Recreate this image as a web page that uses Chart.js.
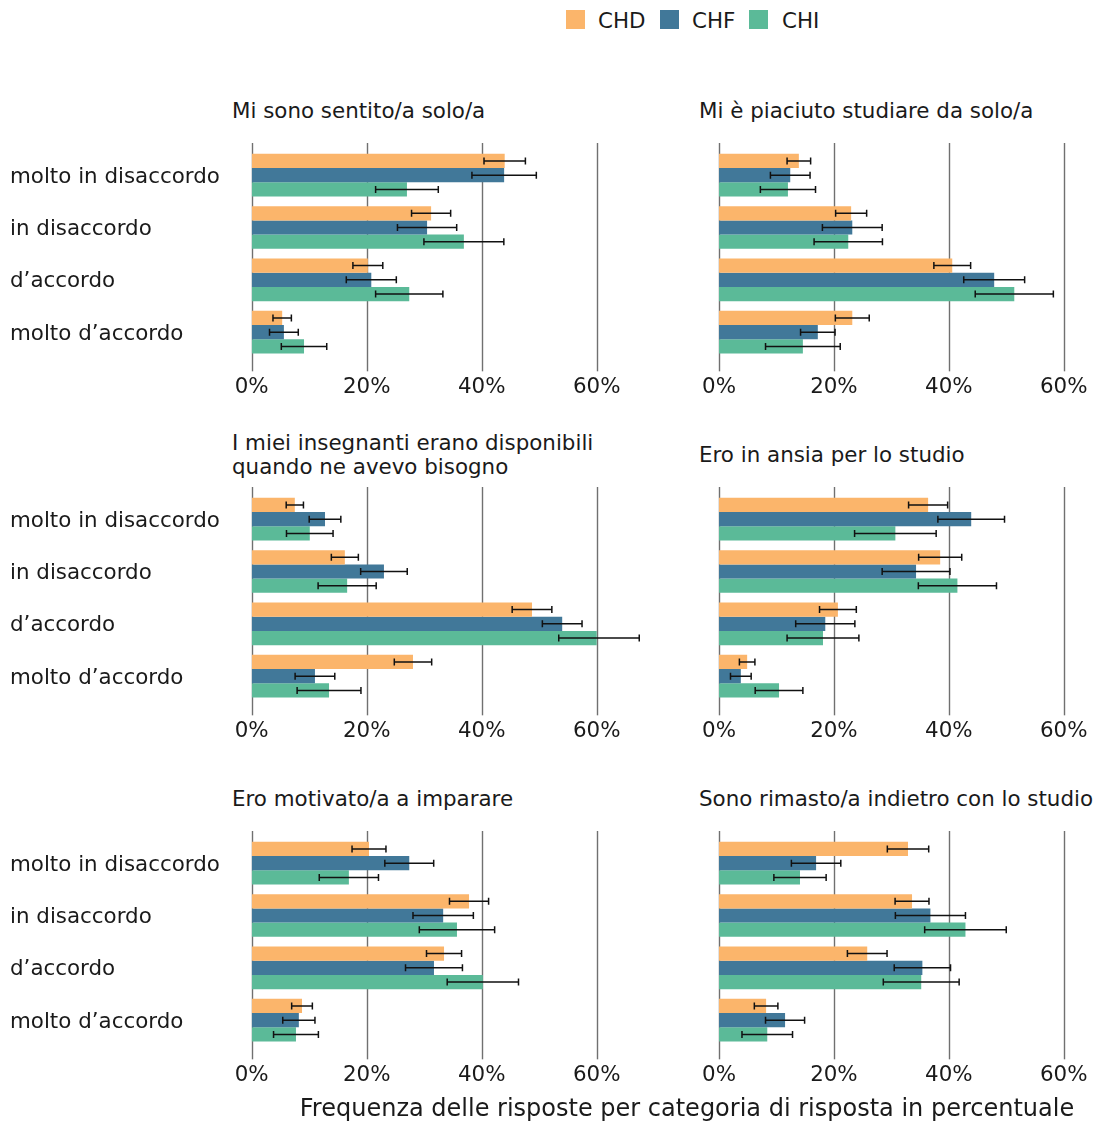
<!DOCTYPE html>
<html lang="it">
<head>
<meta charset="utf-8">
<title>Frequenza delle risposte</title>
<script src="https://cdn.jsdelivr.net/npm/chart.js@4"></script>
<style>
  html, body { margin: 0; padding: 0; background: #fff; }
  body { width: 1098px; height: 1122px; position: relative; overflow: hidden;
         font-family: "DejaVu Sans", sans-serif; font-size: 21.4px; color: #1a1a1a; }
  .abs { position: absolute; white-space: nowrap; line-height: 24px; }
  .swatch { position: absolute; width: 19px; height: 19px; }
  canvas { position: absolute; }
</style>
</head>
<body>
<div class="swatch" style="left:566px; top:10px; background:#fbb56b"></div>
<div class="abs" style="left:598px; top:9px">CHD</div>
<div class="swatch" style="left:660px; top:10px; background:#417899"></div>
<div class="abs" style="left:692px; top:9px">CHF</div>
<div class="swatch" style="left:749px; top:10px; background:#5bba98"></div>
<div class="abs" style="left:782px; top:9px">CHI</div>

<div id="titles"></div>

<canvas id="c0" width="660" height="280" style="left:0; top:129px"></canvas>
<canvas id="c1" width="408" height="280" style="left:690px; top:129px"></canvas>
<canvas id="c2" width="660" height="280" style="left:0; top:473px"></canvas>
<canvas id="c3" width="408" height="280" style="left:690px; top:473px"></canvas>
<canvas id="c4" width="660" height="280" style="left:0; top:817px"></canvas>
<canvas id="c5" width="408" height="280" style="left:690px; top:817px"></canvas>

<div class="abs" style="left:237px; top:1095px; width:900px; text-align:center; font-size:24px; line-height:26px">Frequenza delle risposte per categoria di risposta in percentuale</div>

<script>
const categories = ['molto in disaccordo', 'in disaccordo', 'd\u2019accordo', 'molto d\u2019accordo'];
const groups = ['CHD', 'CHF', 'CHI'];
const xTicks = [0, 20, 40, 60];

const panelTitles = [
    ['Mi sono sentito/a solo/a'],
    ['Mi \u00e8 piaciuto studiare da solo/a'],
    ['I miei insegnanti erano disponibili', 'quando ne avevo bisogno'],
    ['Ero in ansia per lo studio'],
    ['Ero motivato/a a imparare'],
    ['Sono rimasto/a indietro con lo studio']
];

// percentages per group (CHD, CHF, CHI), one row per category
const soloValues = [[44.0, 31.2, 20.2, 5.3], [43.9, 30.5, 20.8, 5.6], [27.0, 36.9, 27.4, 9.1]];
const soloErrors = [[3.6, 3.4, 2.6, 1.6], [5.6, 5.15, 4.35, 2.5], [5.45, 6.95, 5.85, 3.95]];

const studiareValues = [[13.9, 23.0, 40.6, 23.2], [12.4, 23.2, 47.9, 17.2], [12.0, 22.5, 51.4, 14.6]];
const studiareErrors = [[2.05, 2.7, 3.2, 2.95], [3.45, 5.2, 5.3, 3.0], [4.8, 5.95, 6.8, 6.5]];

const insegnantiValues = [[7.5, 16.2, 48.75, 28.05], [12.75, 23.0, 54.0, 11.0], [10.1, 16.6, 60.4, 13.45]];
const insegnantiErrors = [[1.5, 2.35, 3.45, 3.25], [2.75, 4.05, 3.45, 3.45], [4.05, 5.05, 7.0, 5.55]];

const ansiaValues = [[36.4, 38.5, 20.7, 4.9], [43.9, 34.3, 18.5, 3.8], [30.7, 41.5, 18.1, 10.45]];
const ansiaErrors = [[3.4, 3.75, 3.2, 1.35], [5.8, 5.9, 5.15, 1.8], [7.1, 6.8, 6.25, 4.15]];

const motivatoValues = [[20.4, 37.8, 33.45, 8.75], [27.4, 33.3, 31.7, 8.2], [16.9, 35.7, 40.2, 7.7]];
const motivatoErrors = [[2.95, 3.4, 3.05, 1.8], [4.25, 5.25, 4.95, 2.8], [5.15, 6.55, 6.2, 3.9]];

const indietroValues = [[32.9, 33.6, 25.8, 8.2], [16.9, 36.8, 35.4, 11.5], [14.1, 42.9, 35.2, 8.4]];
const indietroErrors = [[3.6, 2.95, 3.45, 2.05], [4.3, 6.1, 4.9, 3.4], [4.55, 7.1, 6.6, 4.4]];

const groupColors = ['#fbb56b', '#417899', '#5bba98'];

document.addEventListener('DOMContentLoaded', function() {
    Chart.defaults.font.family = '"DejaVu Sans", sans-serif';
    Chart.defaults.font.size = 21.4;
    Chart.defaults.color = '#1a1a1a';

    const panels = [
        [soloValues, soloErrors],
        [studiareValues, studiareErrors],
        [insegnantiValues, insegnantiErrors],
        [ansiaValues, ansiaErrors],
        [motivatoValues, motivatoErrors],
        [indietroValues, indietroErrors]
    ];

    // vertical grid lines, a little taller than the plot area
    const gridPlugin = {
        id: 'tallGrid',
        beforeDatasetsDraw(chart) {
            const { ctx, chartArea, scales } = chart;
            ctx.save();
            ctx.strokeStyle = '#707070';
            ctx.lineWidth = 1.4;
            xTicks.forEach(v => {
                const x = Math.round(scales.x.getPixelForValue(v)) + 0.5;
                ctx.beginPath();
                ctx.moveTo(x, chartArea.top - 6);
                ctx.lineTo(x, chartArea.bottom + 13);
                ctx.stroke();
            });
            ctx.restore();
        }
    };

    // symmetric error bars with small caps
    const errorPlugin = {
        id: 'errorBars',
        afterDatasetsDraw(chart) {
            const { ctx, scales } = chart;
            ctx.save();
            ctx.strokeStyle = '#111';
            ctx.lineWidth = 1.5;
            chart.data.datasets.forEach((ds, i) => {
                const meta = chart.getDatasetMeta(i);
                meta.data.forEach((bar, j) => {
                    const v = ds.data[j];
                    const e = ds.errors[j];
                    const x1 = scales.x.getPixelForValue(v - e);
                    const x2 = scales.x.getPixelForValue(v + e);
                    const y = bar.y;
                    ctx.beginPath();
                    ctx.moveTo(x1, y);
                    ctx.lineTo(x2, y);
                    ctx.moveTo(x1, y - 3.5);
                    ctx.lineTo(x1, y + 3.5);
                    ctx.moveTo(x2, y - 3.5);
                    ctx.lineTo(x2, y + 3.5);
                    ctx.stroke();
                });
            });
            ctx.restore();
        }
    };

    const titleBox = document.getElementById('titles');

    panels.forEach(function(p, k) {
        const left = k % 2 === 0;
        const row = Math.floor(k / 2);

        const lines = panelTitles[k];
        const t = document.createElement('div');
        t.className = 'abs';
        t.style.left = (left ? 232 : 699) + 'px';
        t.style.top = (99 + row * 344 - (lines.length - 1) * 12) + 'px';
        t.innerHTML = lines.join('<br>');
        titleBox.appendChild(t);

        const yAxis = left
            ? {
                border: { display: false },
                grid: { display: false, drawTicks: false, tickLength: 0 },
                ticks: { crossAlign: 'far', padding: 0, labelOffset: 2 },
                afterFit: s => { s.width = 241.7; }
            }
            : { display: false };

        new Chart(document.getElementById('c' + k), {
            type: 'bar',
            data: {
                labels: categories,
                datasets: groups.map((g, i) => ({
                    label: g,
                    data: p[0][i],
                    errors: p[1][i],
                    backgroundColor: groupColors[i],
                    borderWidth: 0,
                    barPercentage: 1.0,
                    categoryPercentage: 0.816
                }))
            },
            options: {
                indexAxis: 'y',
                responsive: false,
                animation: false,
                layout: {
                    padding: left
                        ? { left: 10, right: 63.3, top: 20, bottom: 10.67 }
                        : { left: 29, right: 34.3, top: 20, bottom: 10.67 }
                },
                plugins: {
                    legend: { display: false },
                    tooltip: { enabled: false }
                },
                scales: {
                    x: {
                        min: 0,
                        max: 60,
                        border: { display: false },
                        grid: { display: false, drawTicks: false, tickLength: 0 },
                        ticks: {
                            stepSize: 20,
                            padding: 0,
                            maxRotation: 0,
                            // tall line box pushes the labels below the tick marks
                            font: { lineHeight: '57.7px' },
                            callback: v => v + '%'
                        },
                        afterFit: s => { s.height = 40; }
                    },
                    y: yAxis
                }
            },
            plugins: [gridPlugin, errorPlugin]
        });
    });
});
</script>
</body>
</html>
